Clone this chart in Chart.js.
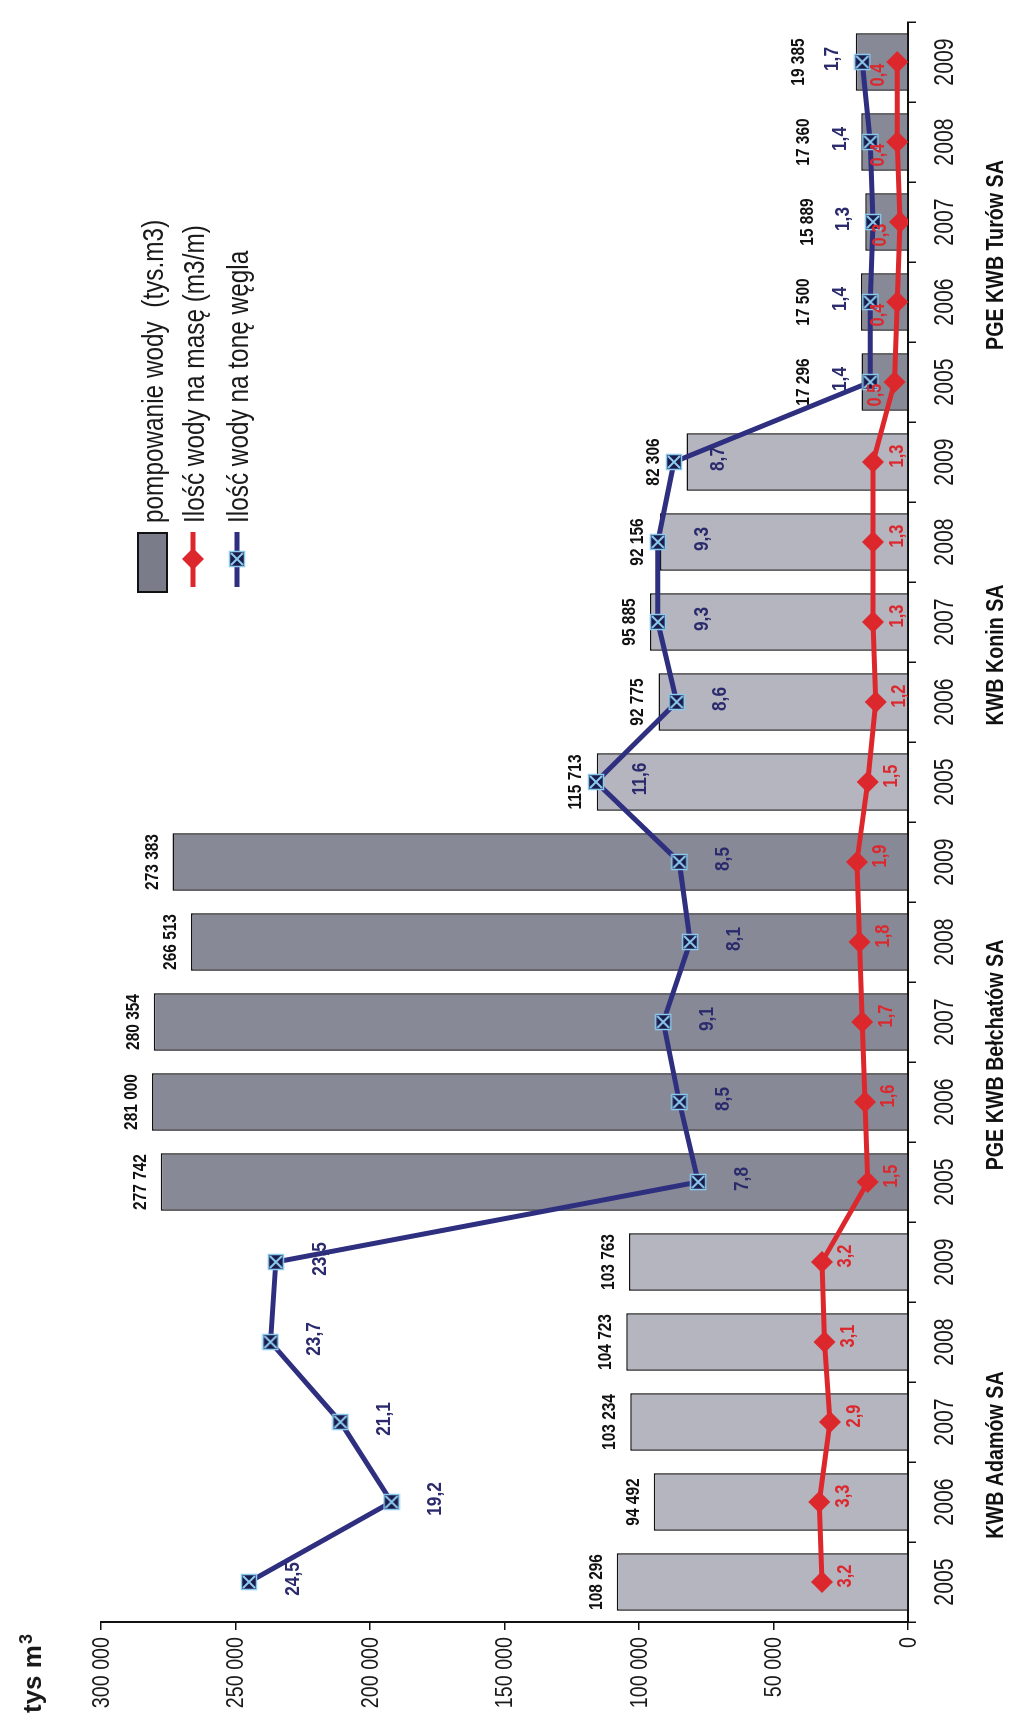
<!DOCTYPE html>
<html lang="pl">
<head>
<meta charset="UTF-8">
<title>Pompowanie wody - kopalnie węgla brunatnego</title>
<script src="https://cdn.jsdelivr.net/npm/chart.js@4"></script>
<style>
  html, body { margin: 0; padding: 0; background: #fff; overflow: hidden; }
  /* wykres rysowany poziomo i obrócony o 90 stopni jak w oryginale */
  #wrap { position: absolute; left: 0; top: 0; width: 1724px; height: 1024px;
          transform-origin: 0 0; transform: translateY(1724px) rotate(-90deg); }
</style>
</head>
<body>
<div id="wrap"><canvas id="chart" width="1724" height="1024"></canvas></div>
<script>
// dane
const years = ['2005', '2006', '2007', '2008', '2009'];
const mines = ['KWB Adamów SA', 'PGE KWB Bełchatów SA', 'KWB Konin SA', 'PGE KWB Turów SA'];
const categories = mines.flatMap(() => years);
const pompowanie = [108296, 94492, 103234, 104723, 103763,
                    277742, 281000, 280354, 266513, 273383,
                    115713, 92775, 95885, 92156, 82306,
                    17296, 17500, 15889, 17360, 19385];
const naMase = [3.2, 3.3, 2.9, 3.1, 3.2,
                1.5, 1.6, 1.7, 1.8, 1.9,
                1.5, 1.2, 1.3, 1.3, 1.3,
                0.5, 0.4, 0.3, 0.4, 0.4];
const naTone = [24.5, 19.2, 21.1, 23.7, 23.5,
                7.8, 8.5, 9.1, 8.1, 8.5,
                11.6, 8.6, 9.3, 9.3, 8.7,
                1.4, 1.4, 1.3, 1.4, 1.7];
const yTicks = [0, 50000, 100000, 150000, 200000, 250000, 300000];
const seriesNames = ['pompowanie wody  (tys.m3)', 'Ilość wody na masę (m3/m)', 'Ilość wody na tonę węgla'];

const SANS = '"Liberation Sans", Arial, sans-serif';
const RED = '#dc282d';
const BLUE = '#2f2f80';
const LIGHT = '#b4b5bf';
const DARK = '#878996';

const fmtK = v => String(v).replace(/\B(?=(\d{3})+(?!\d))/g, ' ');
const fmt1 = v => v.toFixed(1).replace('.', ',');

// brak czcionki zwężonej - tekst ściskany w poziomie
function narrowText(ctx, text, x, y, font, sx) {
  ctx.save();
  ctx.font = font;
  ctx.translate(x, y);
  ctx.scale(sx, 1);
  ctx.fillText(text, 0, 0);
  ctx.restore();
}

// znacznik: granatowy kwadrat z jasnym krzyżykiem
function crossBox() {
  const c = document.createElement('canvas');
  c.width = 18; c.height = 18;
  const g = c.getContext('2d');
  g.fillStyle = '#1b1c4c';
  g.fillRect(1, 1, 16, 16);
  g.strokeStyle = '#8ccbee';
  g.lineWidth = 1.5;
  g.strokeRect(1.5, 1.5, 15, 15);
  g.lineWidth = 2;
  g.beginPath();
  g.moveTo(3, 3); g.lineTo(15, 15);
  g.moveTo(15, 3); g.lineTo(3, 15);
  g.stroke();
  return c;
}
const boxMarker = crossBox();

const barColors = categories.map((_, i) => (Math.floor(i / 5) % 2 ? DARK : LIGHT));

const labelPlugin = {
  id: 'labels',
  afterDatasetsDraw(chart) {
    const ctx = chart.ctx;
    const area = chart.chartArea;
    const xs = chart.scales.x, ys = chart.scales.y;
    const bars = chart.getDatasetMeta(0).data;
    const reds = chart.getDatasetMeta(1).data;
    const blues = chart.getDatasetMeta(2).data;
    ctx.save();
    ctx.textAlign = 'center';
    ctx.textBaseline = 'middle';
    pompowanie.forEach((v, i) => {
      const bar = bars[i], red = reds[i], blue = blues[i];
      const turow = i >= 15;
      ctx.fillStyle = '#2a2a6c';
      narrowText(ctx, fmt1(naTone[i]), blue.x + 3, blue.y + (turow ? -30 : 44), 'bold 21px ' + SANS, 0.82);
      ctx.fillStyle = RED;
      narrowText(ctx, fmt1(naMase[i]), red.x + (turow ? -13 : 6), red.y + (turow ? -19 : 24), 'bold 20px ' + SANS, 0.82);
      let top = bar.y;
      if (Math.abs(blue.y - bar.y) < 25) top = Math.min(top, blue.y);
      if (turow) top -= 37;
      ctx.fillStyle = '#111';
      narrowText(ctx, fmtK(v), bar.x, top - 20, 'bold 18px ' + SANS, 0.86);
    });

    // etykiety osi kategorii (lata)
    ctx.fillStyle = '#1a1a1a';
    categories.forEach((c, i) => {
      narrowText(ctx, c, xs.getPixelForValue(i), area.bottom + 37, '28px ' + SANS, 0.76);
    });
    // etykiety osi wartości
    ctx.textAlign = 'right';
    yTicks.forEach(v => {
      narrowText(ctx, fmtK(v), 87, ys.getPixelForValue(v) + 1, '24px ' + SANS, 0.82);
    });

    // nazwy kopalń pod latami
    ctx.textAlign = 'center';
    ctx.fillStyle = '#111';
    mines.forEach((m, g) => {
      narrowText(ctx, m, xs.getPixelForValue(g * 5 + 2) - 33, area.bottom + 88, 'bold 24px ' + SANS, 0.82);
    });

    // legenda
    ctx.textAlign = 'left';
    const lx = 1132;
    ctx.fillStyle = '#7a7c8a';
    ctx.fillRect(lx, 138, 59, 29);
    ctx.strokeStyle = '#111';
    ctx.lineWidth = 2;
    ctx.strokeRect(lx, 138, 59, 29);
    ctx.lineWidth = 5;
    ctx.strokeStyle = RED;
    ctx.beginPath(); ctx.moveTo(lx + 5, 193); ctx.lineTo(lx + 60, 193); ctx.stroke();
    ctx.fillStyle = RED;
    ctx.beginPath();
    ctx.moveTo(lx + 33, 182); ctx.lineTo(lx + 44, 193); ctx.lineTo(lx + 33, 204); ctx.lineTo(lx + 22, 193);
    ctx.closePath(); ctx.fill();
    ctx.strokeStyle = BLUE;
    ctx.beginPath(); ctx.moveTo(lx + 5, 237); ctx.lineTo(lx + 60, 237); ctx.stroke();
    ctx.drawImage(boxMarker, lx + 24, 228);
    ctx.fillStyle = '#1a1a1a';
    [155, 196, 240].forEach((y, k) => narrowText(ctx, seriesNames[k], 1201, y, '29px ' + SANS, 0.84));

    // jednostka osi
    ctx.textBaseline = 'alphabetic';
    ctx.font = 'bold 26px ' + SANS;
    ctx.fillText('tys m', 11, 41);
    const w = ctx.measureText('tys m').width;
    ctx.font = 'bold 18px ' + SANS;
    ctx.fillText('3', 11 + w + 1, 32);
    ctx.restore();
  }
};

new Chart(document.getElementById('chart'), {
  data: {
    labels: categories,
    datasets: [
      {
        type: 'bar',
        label: seriesNames[0],
        data: pompowanie,
        backgroundColor: barColors,
        borderColor: '#111',
        borderWidth: 1.5,
        barPercentage: 0.72,
        categoryPercentage: 1,
        order: 3
      },
      {
        type: 'line',
        label: seriesNames[1],
        data: naMase,
        yAxisID: 'y2',
        borderColor: RED,
        borderWidth: 5,
        pointStyle: 'rectRot',
        pointRadius: 11,
        pointBackgroundColor: RED,
        pointBorderWidth: 0,
        tension: 0,
        order: 2
      },
      {
        type: 'line',
        label: seriesNames[2],
        data: naTone,
        yAxisID: 'y2',
        borderColor: BLUE,
        borderWidth: 5,
        pointStyle: boxMarker,
        tension: 0,
        order: 1
      }
    ]
  },
  options: {
    responsive: false,
    devicePixelRatio: 1,
    animation: false,
    layout: { padding: { left: 0, top: 101, right: 22, bottom: 0 } },
    plugins: { legend: { display: false }, tooltip: { enabled: false } },
    scales: {
      x: {
        grid: { drawOnChartArea: false, tickLength: 8, color: '#111', lineWidth: 1.5 },
        border: { color: '#111', width: 2 },
        ticks: { color: 'rgba(0,0,0,0)', font: { size: 27 }, maxRotation: 0, autoSkip: false },
        afterFit(scale) { scale.height = 116; }
      },
      y: {
        min: 0,
        max: 300000,
        afterBuildTicks(scale) { scale.ticks = yTicks.map(v => ({ value: v })); },
        grid: { drawOnChartArea: false, tickLength: 8, color: '#111', lineWidth: 1.5 },
        border: { color: '#111', width: 2 },
        ticks: { color: 'rgba(0,0,0,0)', font: { size: 24 }, callback: v => fmtK(v) },
        afterFit(scale) { scale.width = 102; }
      },
      y2: { display: false, min: 0, max: 30 }
    }
  },
  plugins: [labelPlugin]
});
</script>
</body>
</html>
